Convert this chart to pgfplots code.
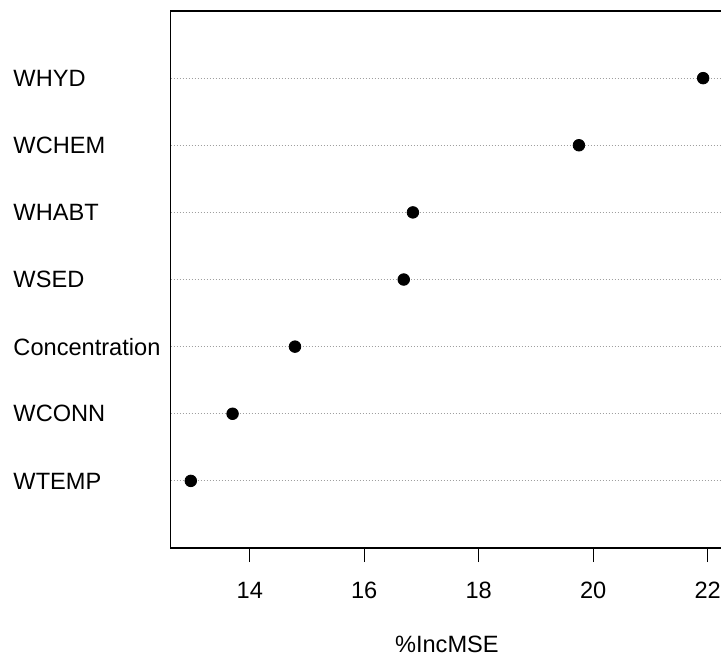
\documentclass[border=0pt]{standalone}
\usepackage{fontspec}
\setmainfont{Liberation Sans}
\usepackage{pgfplots}
\pgfplotsset{compat=1.18}
\begin{document}
\begin{tikzpicture}
\begin{axis}[
  at={(0,0)}, anchor=south west,
  scale only axis, width=276.15pt, height=268.5pt,
  xmin=12.619, xmax=22.267, ymin=0, ymax=8,
  xtick={14,16,18,20,22},
  ytick={1,...,7},
  yticklabels={WTEMP,WCONN,Concentration,WSED,WHABT,WCHEM,WHYD},
  font=\fontsize{11.8}{14}\selectfont,
  /pgf/number format/assume math mode=true,
  tick align=outside,
  xtick pos=left, ytick pos=left,
  major tick length=7pt,
  ytick style={draw=none},
  xtick style={black, line width=0.5pt},
  axis line style={line width=0.6pt},
  ymajorgrids,
  grid style={gray!75, line width=0.5pt, dash pattern=on 0.6pt off 0.9pt},
  yticklabel style={anchor=west, inner sep=0pt, xshift=-71.8pt},
  xticklabel style={anchor=base, yshift=-18pt},
  xlabel={\%IncMSE},
  xlabel style={at={(axis description cs:0.5,0)}, anchor=base, yshift=-52pt},
]
\addplot[only marks, mark=*, mark size=2.9pt, black] coordinates {
  (12.97,1) (13.70,2) (14.79,3) (16.69,4) (16.85,5) (19.75,6) (21.92,7)
};
\end{axis}
\pgfresetboundingbox
\useasboundingbox (-85.35pt,-53.5pt) rectangle (275.15pt,274pt);
\end{tikzpicture}
\end{document}
